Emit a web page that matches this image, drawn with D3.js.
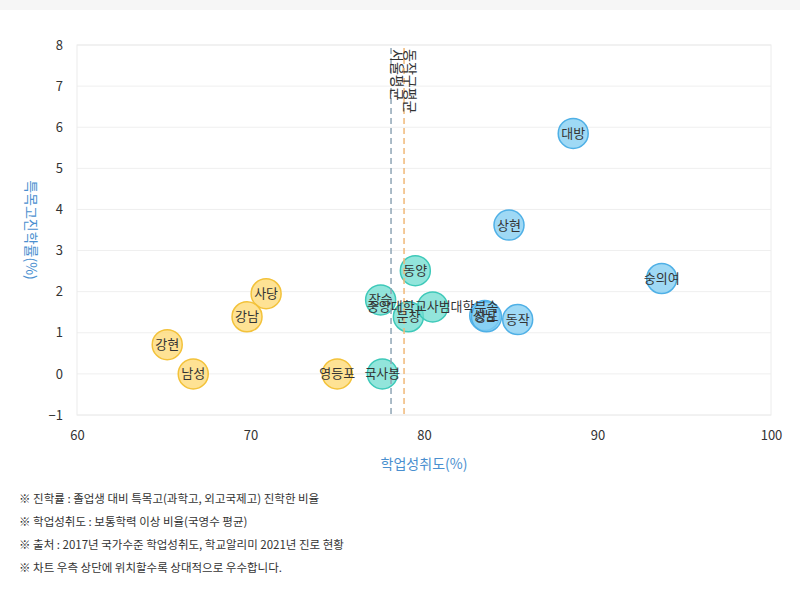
<!DOCTYPE html>
<html>
<head>
<meta charset="utf-8">
<script src="https://cdn.jsdelivr.net/npm/d3@7"></script>
<style>
body { margin: 0; background: #fff; font-family: "Noto Sans CJK KR", "Noto Sans", sans-serif; }
svg text { font-family: "Noto Sans CJK KR", "Noto Sans", sans-serif; }
</style>
</head>
<body>
<script>
// Chart data
const schools = ["대방", "상현", "숭의여", "동작", "성남", "상도", "동양", "장승", "문창", "중앙대학교사범대학부속", "국사봉", "사당", "강남", "강현", "남성", "영등포"];
const achievement = [88.6, 84.9, 93.7, 85.4, 83.5, 83.6, 79.5, 77.5, 79.1, 80.5, 77.6, 70.9, 69.8, 65.2, 66.7, 75.0];
const advanceRate = [5.85, 3.62, 2.32, 1.32, 1.42, 1.39, 2.51, 1.80, 1.39, 1.63, 0.0, 1.95, 1.39, 0.71, 0.0, 0.0];
const group = ["high", "high", "high", "high", "high", "high", "mid", "mid", "mid", "mid", "mid", "low", "low", "low", "low", "low"];
const xTicks = [60, 70, 80, 90, 100];
const yTicks = [-1, 0, 1, 2, 3, 4, 5, 6, 7, 8];
const avgLabels = ["서울평균", "동작구평균"];
const avgValues = [78.1, 78.85];
const notes = [
	"※ 진학률 : 졸업생 대비 특목고(과학고, 외고국제고) 진학한 비율",
	"※ 학업성취도 : 보통학력 이상 비율(국영수 평균)",
	"※ 출처 : 2017년 국가수준 학업성취도, 학교알리미 2021년 진로 현황",
	"※ 차트 우측 상단에 위치할수록 상대적으로 우수합니다."
];

const w = 800;
const h = 592;
const plot = { left: 77, right: 771, top: 45, bottom: 415 };
const fills = { high: "#7fccf2", mid: "#6ddccf", low: "#fdd870" };
const strokes = { high: "#4fb0e6", mid: "#3ec9b9", low: "#f3c23a" };
const avgColors = ["#8fa5b5", "#f0b878"];

const svg = d3.select('body')
	.append('svg')
	.attr('width', w)
	.attr('height', h);

// top gray band
svg.append('rect')
	.attr('x', 0).attr('y', 0)
	.attr('width', w).attr('height', 10)
	.attr('fill', '#f6f6f6');

const xScale = d3.scaleLinear()
	.domain([60, 100])
	.range([plot.left, plot.right]);

const yScale = d3.scaleLinear()
	.domain([-1, 8])
	.range([plot.bottom, plot.top]);

// grid lines
svg.append('g')
	.selectAll('line')
	.data(yTicks)
	.enter()
	.append('line')
	.attr('x1', plot.left)
	.attr('x2', plot.right)
	.attr('y1', (d) => yScale(d))
	.attr('y2', (d) => yScale(d))
	.attr('stroke', '#efefef');

// plot border
svg.append('rect')
	.attr('x', plot.left)
	.attr('y', plot.top)
	.attr('width', plot.right - plot.left)
	.attr('height', plot.bottom - plot.top)
	.attr('fill', 'none')
	.attr('stroke', '#ececec');

// axes
const xAxis = d3.axisBottom(xScale).tickValues(xTicks).tickSize(0).tickPadding(16);
const yAxis = d3.axisLeft(yScale).tickValues(yTicks).tickSize(0).tickPadding(14);

svg.append('g')
	.attr('transform', 'translate(0,' + plot.bottom + ')')
	.call(xAxis)
	.call((g) => g.select('.domain').remove())
	.selectAll('text')
	.attr('font-size', 13)
	.attr('fill', '#333');

svg.append('g')
	.attr('transform', 'translate(' + plot.left + ',0)')
	.call(yAxis)
	.call((g) => g.select('.domain').remove())
	.selectAll('text')
	.attr('font-size', 13)
	.attr('fill', '#333');

// axis titles
svg.append('text')
	.attr('x', (plot.left + plot.right) / 2)
	.attr('y', 469)
	.attr('text-anchor', 'middle')
	.attr('font-size', 14)
	.attr('fill', '#4a8fcf')
	.text('학업성취도(%)');

svg.append('text')
	.attr('transform', 'translate(26,' + ((plot.top + plot.bottom) / 2) + ') rotate(90)')
	.attr('text-anchor', 'middle')
	.attr('font-size', 14)
	.attr('fill', '#4a8fcf')
	.text('특목고진학률(%)');

// points
const points = schools.map((name, i) => ({ name: name, x: achievement[i], y: advanceRate[i], g: group[i] }));

svg.append('g')
	.selectAll('circle')
	.data(points)
	.enter()
	.append('circle')
	.attr('cx', (d) => xScale(d.x))
	.attr('cy', (d) => yScale(d.y))
	.attr('r', 15)
	.attr('fill', (d) => fills[d.g])
	.attr('fill-opacity', 0.75)
	.attr('stroke', (d) => strokes[d.g])
	.attr('stroke-width', 1.5);

// average lines
const avgG = svg.append('g');
avgValues.forEach((v, i) => {
	avgG.append('line')
		.attr('x1', xScale(v))
		.attr('x2', xScale(v))
		.attr('y1', plot.top + 3)
		.attr('y2', plot.bottom)
		.attr('stroke', avgColors[i])
		.attr('stroke-width', 1.5)
		.attr('stroke-dasharray', '6,4');
	avgG.append('text')
		.attr('transform', 'translate(' + (xScale(v) + 1) + ',' + (plot.top + 4) + ') rotate(90)')
		.attr('font-size', 14)
		.attr('fill', '#333')
		.text(avgLabels[i]);
});

// point labels
svg.append('g')
	.selectAll('text')
	.data(points)
	.enter()
	.append('text')
	.attr('x', (d) => xScale(d.x))
	.attr('y', (d) => yScale(d.y))
	.attr('dy', '0.35em')
	.attr('text-anchor', 'middle')
	.attr('font-size', 13)
	.attr('fill', '#333')
	.text((d) => d.name);

// footnotes
svg.append('g')
	.selectAll('text')
	.data(notes)
	.enter()
	.append('text')
	.attr('x', 19)
	.attr('y', (d, i) => 503 + i * 23)
	.attr('font-size', 11.5)
	.attr('fill', '#333')
	.text((d) => d);
</script>
</body>
</html>
